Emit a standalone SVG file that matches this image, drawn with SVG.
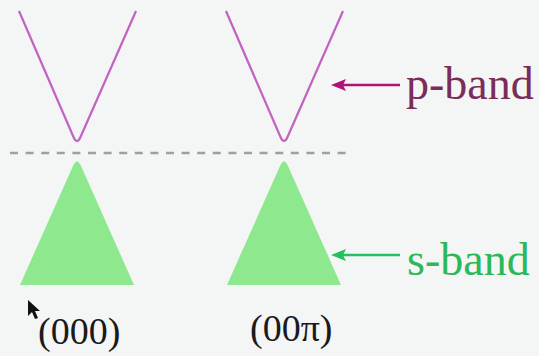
<svg xmlns="http://www.w3.org/2000/svg" width="539" height="356" viewBox="0 0 539 356">
<style>
.pb{fill:none;stroke:#c262c2;stroke-width:2.2;stroke-linejoin:round}
.sb{fill:#8ee88e}
.lbl{font-family:"Liberation Serif","Times New Roman",serif;font-size:46px}
.k{font-family:"Liberation Serif","Times New Roman",serif;font-size:38px;fill:#1a1a1a}
</style>
<defs>
<marker id="ap" markerWidth="15" markerHeight="12" refX="6" refY="6" orient="auto" markerUnits="userSpaceOnUse"><path d="M15,6 L0,0 L3,6 L0,12 Z" fill="#b0107a"/></marker>
<marker id="as" markerWidth="15" markerHeight="12" refX="6" refY="6" orient="auto" markerUnits="userSpaceOnUse"><path d="M15,6 L0,0 L3,6 L0,12 Z" fill="#22c060"/></marker>
</defs>
<rect width="539" height="356" fill="#f4f5f5"/>
<g id="p-band-000"><path class="pb" d="M19,11 L73.5,137 Q77,145 80.5,137 L136,11"/></g>
<g id="p-band-00pi"><path class="pb" d="M226,11 L280.5,137 Q284,145 287.5,137 L343,11"/></g>
<g id="fermi-level"><line x1="10" y1="153" x2="349" y2="153" stroke="#a0a0a0" stroke-width="2.5" stroke-dasharray="8,7.6"/></g>
<g id="s-band-000"><path class="sb" d="M20,285 L73,166 Q77,157 81,166 L134,285 Z"/></g>
<g id="s-band-00pi"><path class="sb" d="M227,285 L280,166 Q284,157 288,166 L341,285 Z"/></g>
<g id="connectors">
<line x1="400" y1="85" x2="340" y2="85" stroke="#b0107a" stroke-width="2.5" marker-end="url(#ap)"/>
<line x1="400" y1="255" x2="340" y2="255" stroke="#22c060" stroke-width="2.5" marker-end="url(#as)"/>
</g>
<g id="label-p"><text class="lbl" x="406" y="99" fill="#7b2d5a">p-band</text></g>
<g id="label-s"><text class="lbl" x="407" y="275" fill="#2cb85a">s-band</text></g>
<g id="label-000"><text class="k" x="38" y="344">(000)</text></g>
<g id="label-00pi"><text class="k" x="250" y="341">(00π)</text></g>
<path d="M28,300 L28,316 L32,312 L35,319 L38,318 L35,311 L40,311 Z" fill="#111"/>
</svg>
